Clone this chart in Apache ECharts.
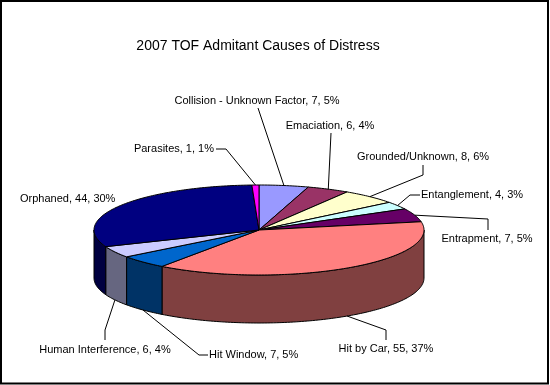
<!DOCTYPE html>
<html><head><meta charset="utf-8">
<script src="https://cdn.jsdelivr.net/npm/echarts@6/dist/echarts.min.js"></script>
<style>html,body{margin:0;padding:0;background:#fff}#c{width:550px;height:385px}</style>
</head><body><div id="c"></div>
<script>
// ---- data ----
const title = '2007 TOF Admitant Causes of Distress';
const categories = ['Collision - Unknown Factor','Emaciation','Grounded/Unknown','Entanglement','Entrapment','Hit by Car','Hit Window','Human Interference','Orphaned','Parasites'];
const counts = [7, 6, 8, 4, 7, 55, 7, 6, 44, 1];
const percents = ['5%','4%','6%','3%','5%','37%','5%','4%','30%','1%'];

// ---- style / layout ----
const colors = ['#9999FF','#993366','#FFFFCC','#CCFFFF','#660066','#FF8080','#0066CC','#CCCCFF','#000080','#FF00FF'];
const pie = { cx: 259, cy: 230, rx: 165, ry: 45, depth: 48 };
// label text position, alignment and leader bend points (after anchor on slice)
const labelLayout = [
  { x: 257, y: 101, align: 'center', leader: [[258, 108]] },
  { x: 330, y: 126, align: 'center', leader: [[331, 133]] },
  { x: 423, y: 157, align: 'center', leader: [[423, 175], [423, 165]] },
  { x: 421, y: 195, align: 'left',   leader: [[410, 195], [420, 195]] },
  { x: 487, y: 239, align: 'center', leader: [[488, 219], [488, 230]] },
  { x: 386, y: 349, align: 'center', leader: [[386, 330], [386, 340]] },
  { x: 209, y: 355, align: 'left',   leader: [[199, 355], [208, 355]] },
  { x: 105, y: 350, align: 'center', leader: [[105, 330], [105, 340]] },
  { x: 20,  y: 199, align: 'left',   leader: [] },
  { x: 214, y: 149, align: 'right',  leader: [[226, 149], [216, 149]] }
];
const FONT = 'Tahoma, "Liberation Sans", Arial, sans-serif';

function darken(hex, f) {
  const n = parseInt(hex.slice(1), 16);
  const r = Math.round(((n >> 16) & 255) * f), g = Math.round(((n >> 8) & 255) * f), b = Math.round((n & 255) * f);
  return 'rgb(' + r + ',' + g + ',' + b + ')';
}
function pt(t, dy) {
  return [pie.cx + pie.rx * Math.sin(t), pie.cy - pie.ry * Math.cos(t) + (dy || 0)];
}
function arc(a, b, dy) {
  const pts = [];
  const n = Math.max(2, Math.ceil(Math.abs(b - a) / (Math.PI / 180)));
  for (let i = 0; i <= n; i++) pts.push(pt(a + (b - a) * i / n, dy));
  return pts;
}

const total = counts.reduce((s, v) => s + v, 0);
const cum = [];
counts.reduce((s, v, i) => { cum[i] = s; return s + v; }, 0);

function renderItem(params, api) {
  const i = params.dataIndex;
  const v = api.value(0);
  const a0 = cum[i] / total * Math.PI * 2;
  const a1 = a0 + v / total * Math.PI * 2;
  const children = [];
  // top face
  children.push({
    type: 'polygon', z2: 5,
    shape: { points: [[pie.cx, pie.cy]].concat(arc(a0, a1, 0)) },
    style: { fill: colors[i], stroke: '#000', lineWidth: 1 }
  });
  // front side wall
  const s0 = Math.max(a0, Math.PI / 2), s1 = Math.min(a1, Math.PI * 1.5);
  if (s1 > s0) {
    const top = arc(s0, s1, 0);
    const bot = arc(s1, s0, pie.depth);
    children.push({
      type: 'polygon', z2: 1,
      shape: { points: top.concat(bot) },
      style: { fill: darken(colors[i], 0.5), stroke: '#000', lineWidth: 1 }
    });
  }
  // label
  const mid = (a0 + a1) / 2;
  const front = Math.cos(mid) < 0;
  const anchor = pt(mid, front ? pie.depth : 0);
  const L = labelLayout[i];
  if (L.leader.length) {
    children.push({
      type: 'polyline', z2: 8,
      shape: { points: [anchor].concat(L.leader) },
      style: { stroke: '#000', lineWidth: 1, fill: null }
    });
  }
  children.push({
    type: 'text', z2: 10, x: L.x, y: L.y,
    style: {
      text: categories[i] + ', ' + v + ', ' + percents[i],
      fill: '#000', font: '11px ' + FONT,
      align: L.align, verticalAlign: 'middle'
    }
  });
  return { type: 'group', children: children };
}

const chart = echarts.init(document.getElementById('c'), null, { renderer: 'canvas' });
chart.setOption({
  animation: false,
  backgroundColor: '#fff',
  graphic: [
    { type: 'rect', shape: { x: 1, y: 1, width: 547, height: 382.5 }, style: { fill: null, stroke: '#000', lineWidth: 2 }, z: 100 },
    { type: 'text', x: 258, y: 46, style: { text: title, font: '14px ' + FONT, fill: '#000', align: 'center', verticalAlign: 'middle' } }
  ],
  series: [{
    type: 'custom',
    coordinateSystem: 'none',
    renderItem: renderItem,
    data: counts.map((v, i) => ({ name: categories[i], value: [v] }))
  }]
});
</script>
</body></html>
